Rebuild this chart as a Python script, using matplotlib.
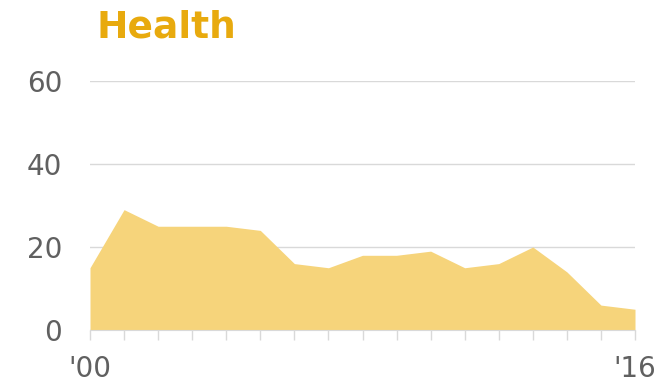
import matplotlib
matplotlib.use("Agg")
import matplotlib.pyplot as plt

years = list(range(2000, 2017))
values = [15, 29, 25, 25, 25, 24, 16, 15, 18, 18, 19, 15, 16, 20, 14, 6, 5]
yticks = [0, 20, 40, 60]
xlabels = {2000: "'00", 2016: "'16"}

fig = plt.figure(figsize=(6.62, 3.87), dpi=100)
ax = fig.add_axes([90 / 662, 1 - 330 / 387, (635 - 90) / 662, (330 - 81) / 387])

ax.fill_between(years, values, 0, color="#F6D47B", linewidth=0, zorder=2)

ax.set_xlim(years[0], years[-1])
ax.set_ylim(0, 60)

ax.set_yticks(yticks)
ax.set_yticklabels([str(v) for v in yticks])
ax.yaxis.grid(True, color="#d9d9d9", linewidth=1, zorder=1)
ax.tick_params(axis="y", length=0, pad=20, labelsize=20, labelcolor="#606060")

ax.set_xticks(years)
ax.set_xticklabels([xlabels.get(y, "") for y in years])
ax.tick_params(axis="x", length=7, width=1, color="#d9d9d9", direction="out",
               pad=11, labelsize=20, labelcolor="#606060")

for s in ["top", "right", "left"]:
    ax.spines[s].set_visible(False)
ax.spines["bottom"].set_color("#d9d9d9")
ax.spines["bottom"].set_zorder(3)

for lab in ax.get_xticklabels() + ax.get_yticklabels():
    lab.set_family("DejaVu Sans")
    lab.set_fontweight("normal")

fig.text(97 / 662, 1 - 38 / 387, "Health", color="#E8AA0E", fontsize=27,
         fontweight="bold", family="DejaVu Sans", ha="left", va="baseline")

fig.savefig("out.png", dpi=100)
